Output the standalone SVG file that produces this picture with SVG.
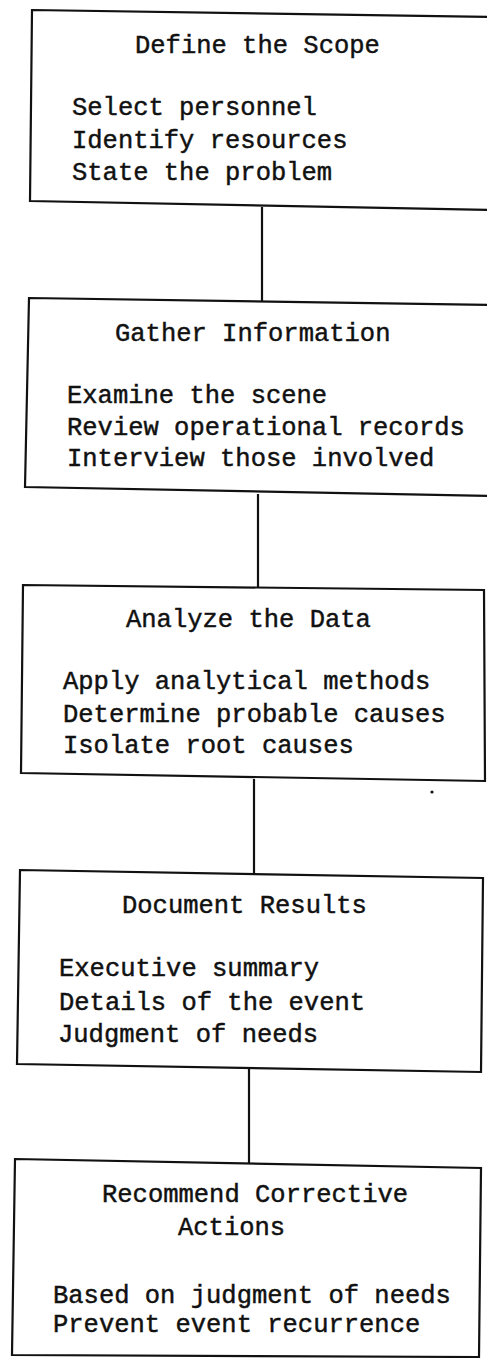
<svg xmlns="http://www.w3.org/2000/svg" width="487" height="1358" viewBox="0 0 487 1358">
<style>
.box{fill:#fff;stroke:#111;stroke-width:2.2;stroke-linejoin:miter}
.t{font-family:"Liberation Mono","DejaVu Sans Mono",monospace;font-size:25.5px;fill:#111;stroke:#111;stroke-width:0.45}
.c{stroke:#111;stroke-width:2.2;fill:none}
</style>
<rect width="487" height="1358" fill="#fff"/>
<g id="connectors">
<line class="c" x1="262" y1="207" x2="262" y2="301"/>
<line class="c" x1="258" y1="494" x2="258" y2="587"/>
<line class="c" x1="254" y1="779" x2="254" y2="874"/>
<line class="c" x1="249" y1="1069" x2="249" y2="1164"/>
</g>
<g id="define-scope">
<polygon class="box" points="32,10 492,17 492,210 30,201"/>
<text class="t" x="135" y="53">Define the Scope</text>
<text class="t" x="72" y="115">Select personnel</text>
<text class="t" x="72" y="148">Identify resources</text>
<text class="t" x="72" y="180">State the problem</text>
</g>
<g id="gather-information">
<polygon class="box" points="29,298 492,305 492,496 25,487"/>
<text class="t" x="115" y="341">Gather Information</text>
<text class="t" x="67" y="403">Examine the scene</text>
<text class="t" x="67" y="435">Review operational records</text>
<text class="t" x="67" y="466">Interview those involved</text>
</g>
<g id="analyze-data">
<polygon class="box" points="23,585 484,590 485,781 21,773"/>
<text class="t" x="126" y="627">Analyze the Data</text>
<text class="t" x="63" y="689">Apply analytical methods</text>
<text class="t" x="63" y="722">Determine probable causes</text>
<text class="t" x="63" y="753">Isolate root causes</text>
</g>
<circle cx="432" cy="792" r="1.6" fill="#111"/>
<g id="document-results">
<polygon class="box" points="20,870 483,878 481,1072 17,1064"/>
<text class="t" x="122" y="913">Document Results</text>
<text class="t" x="59" y="976">Executive summary</text>
<text class="t" x="59" y="1010">Details of the event</text>
<text class="t" x="58" y="1042">Judgment of needs</text>
</g>
<g id="recommend-actions">
<polygon class="box" points="15,1159 481,1168 479,1357 12,1355"/>
<text class="t" x="102" y="1202">Recommend Corrective</text>
<text class="t" x="178" y="1235">Actions</text>
<text class="t" x="53" y="1303">Based on judgment of needs</text>
<text class="t" x="53" y="1332">Prevent event recurrence</text>
</g>
</svg>
